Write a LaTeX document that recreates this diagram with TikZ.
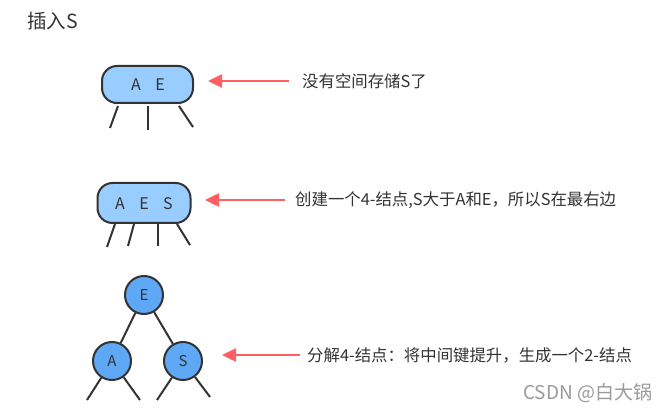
\documentclass[tikz,border=0pt]{standalone}
\usepackage{fontspec}
\setmainfont{Noto Sans CJK SC}
\usetikzlibrary{arrows.meta,calc}
\definecolor{nodeblue}{HTML}{99CCFF}
\definecolor{circblue}{HTML}{5FA8F5}
\definecolor{arrowred}{HTML}{FF5F63}
\definecolor{txt}{HTML}{333333}
\definecolor{wm}{HTML}{9A9A9A}
\begin{document}
\begin{tikzpicture}[x=1pt,y=-1pt,
 keybox/.style={draw=txt, line width=2pt, fill=nodeblue, rounded corners=15pt, inner sep=0pt},
 keycirc/.style={circle, draw=txt, line width=2pt, fill=circblue, minimum size=38pt, inner sep=0pt, text=txt, font=\fontsize{15}{16}\selectfont},
 leg/.style={draw=txt, line width=2pt},
 pointer/.style={draw=arrowred, line width=2.5pt, -{Triangle[length=14pt,width=13pt]}},
 note/.style={anchor=west, text=txt, font=\fontsize{16.4}{18}\selectfont, inner sep=0pt},
 keytxt/.style={text=txt, font=\fontsize{16}{16}\selectfont, inner sep=0pt}]
\fill[white] (0,0) rectangle (672,414);
\node[anchor=west, text=txt, font=\fontsize{19.5}{22}\selectfont, inner sep=0pt] (title) at (27,21) {插入S};
% step 1
\node[keybox, minimum width=91pt, minimum height=37pt] (n1) at (147.5,84.5) {};
\node[keytxt] (n1a) at (136,85) {A};
\node[keytxt] (n1e) at (160,85) {E};
\coordinate (l1a) at (118,106); \coordinate (l1b) at (110,128);
\coordinate (l1c) at (148,106); \coordinate (l1d) at (148,130);
\coordinate (l1e) at (179,106); \coordinate (l1f) at (193,127);
\draw[leg] (l1a) -- (l1b);
\draw[leg] (l1c) -- (l1d);
\draw[leg] (l1e) -- (l1f);
\node[note] (t1) at (302,81) {没有空间存储S了};
% step 2
\node[keybox, minimum width=93pt, minimum height=40pt] (n2) at (144,203) {};
\node[keytxt] (n2a) at (120,203.5) {A};
\node[keytxt] (n2e) at (144,203.5) {E};
\node[keytxt] (n2s) at (168,203.5) {S};
\coordinate (l2a) at (115,224); \coordinate (l2b) at (107,247);
\coordinate (l2c) at (134,224); \coordinate (l2d) at (128,246);
\coordinate (l2e) at (158,224); \coordinate (l2f) at (158,246);
\coordinate (l2g) at (177,224); \coordinate (l2h) at (190,245);
\draw[leg] (l2a) -- (l2b);
\draw[leg] (l2c) -- (l2d);
\draw[leg] (l2e) -- (l2f);
\draw[leg] (l2g) -- (l2h);
\node[note] (t2) at (295,200) {创建一个4-结点,S大于A和E，所以S在最右边};
% step 3
\node[keycirc] (e) at (144,295) {E};
\node[keycirc] (a) at (112,361) {A};
\node[keycirc] (s) at (183,361) {S};
\draw[leg] (e) -- (a);
\draw[leg] (e) -- (s);
\coordinate (la) at (87,400); \coordinate (lb) at (140,400);
\coordinate (lc) at (157,400); \coordinate (ld) at (210,397);
\draw[leg] (a) -- (la);
\draw[leg] (a) -- (lb);
\draw[leg] (s) -- (lc);
\draw[leg] (s) -- (ld);
\node[note] (t3) at (307,355) {分解4-结点：将中间键提升，生成一个2-结点};
% pointers
\coordinate (s1) at (289,81);
\coordinate (h1) at (208,81);
\coordinate (s2) at (285,200);
\coordinate (h2) at (205,200);
\coordinate (s3) at (300,355);
\coordinate (h3) at (222,355);
\draw[pointer] (s1) -- (h1);
\draw[pointer] (s2) -- (h2);
\draw[pointer] (s3) -- (h3);
\node[anchor=west, text=wm, font=\fontsize{19}{22}\selectfont, inner sep=0pt] (csdn) at (523,393) {CSDN @白大锅};
\end{tikzpicture}
\end{document}
